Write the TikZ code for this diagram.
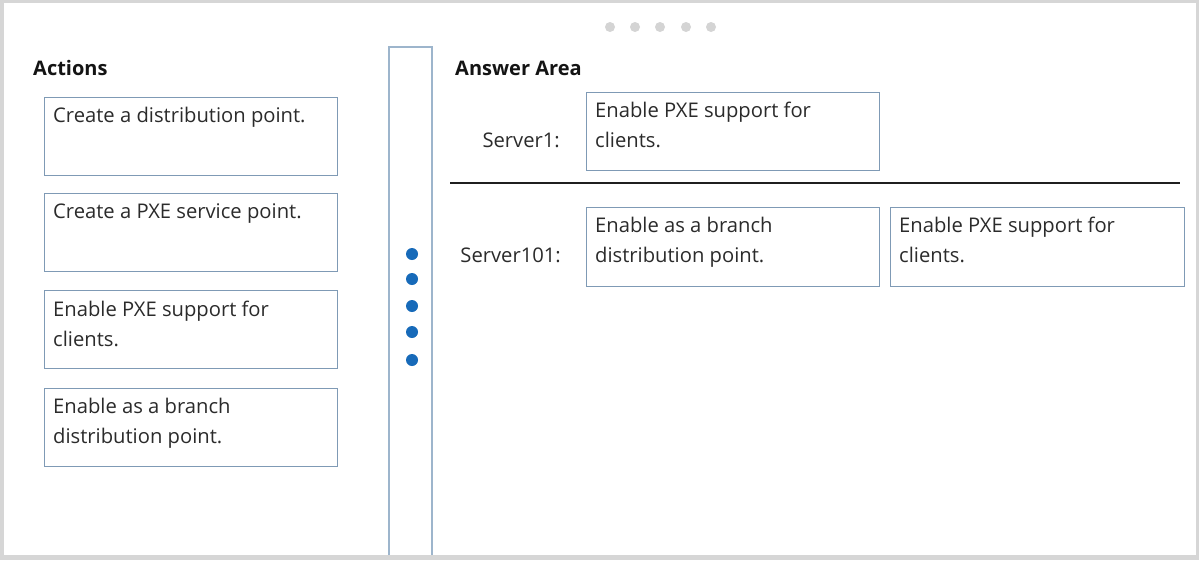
\documentclass[tikz,border=0pt]{standalone}
\usepackage{fontspec}
\setmainfont{Open Sans}
\definecolor{frame}{HTML}{D6D6D6}
\definecolor{boxline}{HTML}{7F9AB5}
\definecolor{colline}{HTML}{9DB5CC}
\definecolor{txt}{HTML}{2B2B2B}
\definecolor{dotblue}{HTML}{176AB9}
\definecolor{dotgray}{HTML}{D4D4D4}
\newcommand{\twolines}[2]{\vtop{\baselineskip=30pt\hbox{#1}\hbox{#2}}}
\tikzset{
  box/.style={draw=boxline, line width=1.1pt, anchor=north west, inner sep=0pt, minimum width=293pt, minimum height=78pt},
  lbl/.style={anchor=base west, inner sep=0pt, text=txt, font=\fontsize{20.2}{30}\selectfont},
  lblr/.style={anchor=base east, inner sep=0pt, text=txt, font=\fontsize{20.2}{30}\selectfont},
  hdr/.style={anchor=base west, inner sep=0pt, text=black!92, font=\fontsize{20}{24}\selectfont\bfseries},
  bdot/.style={circle, fill=dotblue, inner sep=0pt, minimum size=12pt},
  gdot/.style={circle, fill=dotgray, inner sep=0pt, minimum size=10pt}
}
\begin{document}
\begin{tikzpicture}[x=1pt,y=-1pt]
\useasboundingbox (0,0) rectangle (1199,560);
\fill[frame] (0,0) rectangle (1199,560);
\fill[white] (4,3) rectangle (1196,555);
% top pager dots
\foreach \i/\x in {1/610,2/635,3/660,4/686,5/711} \node[gdot] (g\i) at (\x,27) {};
% headers
\node[hdr] (actions) at (33,75) {Actions};
\node[hdr] (answer) at (455,75) {Answer Area};
% left boxes
\node[box] (a1) at (44,97) {};
\node[box] (a2) at (44,193) {};
\node[box] (a3) at (44,290) {};
\node[box] (a4) at (44,388) {};
\node[lbl] (t1) at (53,122) {Create a distribution point.};
\node[lbl] (t2) at (53,218) {Create a PXE service point.};
\node[lbl] (t3) at (53,316) {\twolines{Enable PXE support for}{clients.}};
\node[lbl] (t4) at (53,413) {\twolines{Enable as a branch}{distribution point.}};
% middle column
\draw[colline, line width=1.1pt] (389,555) |- (432,47) -- (432,555);
\foreach \i/\y in {1/254,2/279,3/306,4/332,5/360} \node[bdot] (d\i) at (412,\y) {};
% answer area
\node[lblr] (s1) at (560,147) {Server1:};
\node[box] (b1) at (586,92) {};
\node[lbl] (bt1) at (595,117) {\twolines{Enable PXE support for}{clients.}};
\coordinate (hl) at (450,183);
\coordinate (hr) at (1180,183);
\draw[black!88, line width=2.8pt] (hl) -- (hr);
\node[lblr] (s2) at (561,262) {Server101:};
\node[box, minimum height=79pt] (b2) at (586,207) {};
\node[box, minimum height=79pt, minimum width=294pt] (b3) at (890,207) {};
\node[lbl] (bt2) at (595,232) {\twolines{Enable as a branch}{distribution point.}};
\node[lbl] (bt3) at (899,232) {\twolines{Enable PXE support for}{clients.}};
\end{tikzpicture}
\end{document}
